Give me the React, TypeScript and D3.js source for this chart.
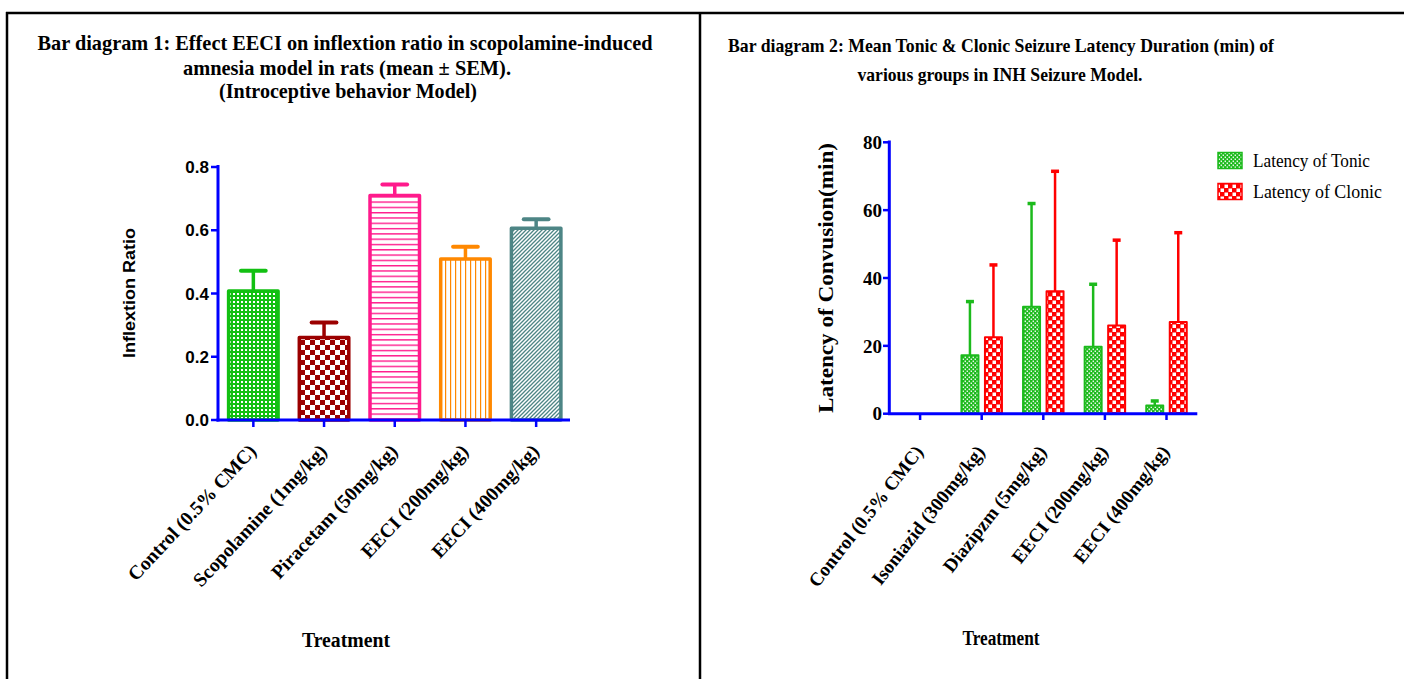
import React from "react";
import * as d3 from "d3";

// ---------- Data ----------
const leftCategories = [
  "Control (0.5% CMC)",
  "Scopolamine (1mg/kg)",
  "Piracetam (50mg/kg)",
  "EECI (200mg/kg)",
  "EECI (400mg/kg)",
];
const leftMeans = [0.408, 0.261, 0.71, 0.509, 0.606];
const leftSEM = [0.064, 0.047, 0.035, 0.039, 0.029];
const leftColors = ["#12c012", "#9b0000", "#ff1a8c", "#ff8800", "#4d8585"];
const leftPatterns = ["pGreenGrid", "pRedCheck", "pPinkH", "pOrangeV", "pTealDiag"];
const leftTicks = [0, 0.2, 0.4, 0.6, 0.8];

const rightCategories = [
  "Control (0.5% CMC)",
  "Isoniazid (300mg/kg)",
  "Diazipzm (5mg/kg)",
  "EECI (200mg/kg)",
  "EECI (400mg/kg)",
];
const seriesNames = ["Latency of Tonic", "Latency of  Clonic"];
const tonicMeans = [0, 17.2, 31.5, 19.7, 2.4];
const tonicErr = [0, 16.0, 30.6, 18.6, 1.5];
const clonicMeans = [0, 22.5, 36.1, 26.0, 27.0];
const clonicErr = [0, 21.5, 35.5, 25.3, 26.5];
const seriesColors = ["#1cba1c", "#ff0000"];
const seriesPatterns = ["pTonic", "pClonic"];
const rightTicks = [0, 20, 40, 60, 80];

const SERIF = "'Liberation Serif', 'Times New Roman', serif";
const SANS = "'Liberation Sans', Arial, sans-serif";
const AXIS = "#0000ff";

export default function App() {
  // Left chart scales
  const xL = d3.scaleBand<string>().domain(leftCategories).range([218, 571.5]).paddingInner(0.3).paddingOuter(0.15);
  const yL = d3.scaleLinear().domain([0, 0.8]).range([420, 167]);
  // Right chart scales
  const xR = d3.scaleBand<string>().domain(rightCategories).range([889.3, 1197.3]).paddingInner(0).paddingOuter(0);
  const xS = d3.scaleBand<string>().domain(seriesNames).range([-20.25, 20.25]).paddingInner(0.277);
  const yR = d3.scaleLinear().domain([0, 80]).range([413.7, 142.3]);
  const fmtL = d3.format(".1f");

  const rightSeries = [
    { means: tonicMeans, errs: tonicErr },
    { means: clonicMeans, errs: clonicErr },
  ];

  return (
    <svg width={1404} height={679} style={{ position: "absolute", left: 0, top: 0, background: "#fff" }}>
      <defs>
        <pattern id="pGreenGrid" patternUnits="userSpaceOnUse" width={4} height={4}>
          <rect width={4} height={4} fill={leftColors[0]} />
          <rect x={1} y={1} width={2} height={2} fill="#fff" />
        </pattern>
        <pattern id="pRedCheck" patternUnits="userSpaceOnUse" width={10} height={10}>
          <rect width={10} height={10} fill="#fff" />
          <rect x={0} y={0} width={5} height={5} fill={leftColors[1]} />
          <rect x={5} y={5} width={5} height={5} fill={leftColors[1]} />
        </pattern>
        <pattern id="pPinkH" patternUnits="userSpaceOnUse" width={5} height={5.3}>
          <rect width={5} height={5.3} fill="#fff" />
          <rect x={0} y={0} width={5} height={1.4} fill={leftColors[2]} />
        </pattern>
        <pattern id="pOrangeV" patternUnits="userSpaceOnUse" width={5} height={5}>
          <rect width={5} height={5} fill="#fff" />
          <rect x={0} y={0} width={1.2} height={5} fill={leftColors[3]} />
        </pattern>
        <pattern id="pTealDiag" patternUnits="userSpaceOnUse" width={4} height={4}>
          <rect width={4} height={4} fill="#fff" />
          <path d="M-1,1 L1,-1 M0,4 L4,0 M3,5 L5,3" stroke={leftColors[4]} strokeWidth={1.3} />
        </pattern>
        <pattern id="pTonic" patternUnits="userSpaceOnUse" width={4} height={4}>
          <rect width={4} height={4} fill={seriesColors[0]} />
          <rect x={0.6} y={0.5} width={1.3} height={1.6} fill="#fff" />
          <rect x={2.6} y={2.5} width={1.3} height={1.6} fill="#fff" />
        </pattern>
        <pattern id="pClonic" patternUnits="userSpaceOnUse" width={8} height={8}>
          <rect width={8} height={8} fill={seriesColors[1]} />
          <rect x={0.5} y={0.5} width={3.5} height={3.5} fill="#fff" />
          <rect x={4.5} y={4.5} width={3.5} height={3.5} fill="#fff" />
        </pattern>
      </defs>

      {/* Frame */}
      <line x1={6} x2={1404} y1={13} y2={13} stroke="#000" strokeWidth={2.5} />
      <line x1={7} x2={7} y1={12} y2={679} stroke="#000" strokeWidth={2.5} />
      <line x1={700} x2={700} y1={12} y2={679} stroke="#000" strokeWidth={2.5} />

      {/* ---------- Left chart ---------- */}
      <g fontFamily={SERIF} fontWeight="bold" fill="#000" textAnchor="middle">
        <text x={345} y={50} fontSize={21} textLength={615} lengthAdjust="spacingAndGlyphs">
          Bar diagram 1: Effect EECI on inflextion ratio in scopolamine-induced
        </text>
        <text x={347} y={75} fontSize={21} textLength={328} lengthAdjust="spacingAndGlyphs">
          amnesia model in rats (mean ± SEM).
        </text>
        <text x={348} y={98} fontSize={21} textLength={258} lengthAdjust="spacingAndGlyphs">
          (Introceptive behavior Model)
        </text>
      </g>

      {/* bars */}
      {leftCategories.map((c, i) => {
        const x0 = xL(c)!;
        const w = xL.bandwidth();
        const yTop = yL(leftMeans[i]);
        const yErr = yL(leftMeans[i] + leftSEM[i]);
        const cx = x0 + w / 2;
        return (
          <g key={c}>
            <rect x={x0} y={yTop} width={w} height={yL(0) - yTop} fill={`url(#${leftPatterns[i]})`}
              stroke={leftColors[i]} strokeWidth={3.5} strokeLinejoin="round" />
            <line x1={cx} x2={cx} y1={yTop} y2={yErr} stroke={leftColors[i]} strokeWidth={3.5} />
            <line x1={cx - w / 4} x2={cx + w / 4} y1={yErr} y2={yErr} stroke={leftColors[i]} strokeWidth={4} strokeLinecap="round" />
          </g>
        );
      })}

      {/* axes */}
      <line x1={218} x2={218} y1={165} y2={421.5} stroke={AXIS} strokeWidth={3} />
      <line x1={216.5} x2={570} y1={420} y2={420} stroke={AXIS} strokeWidth={3} />
      {leftTicks.map((t) => (
        <g key={t}>
          <line x1={211} x2={218} y1={yL(t)} y2={yL(t)} stroke={AXIS} strokeWidth={2.5} />
          <text x={209} y={yL(t)} dy="0.36em" textAnchor="end" fontFamily={SANS} fontWeight="bold" fontSize={17}>
            {fmtL(t)}
          </text>
        </g>
      ))}
      {leftCategories.map((c) => {
        const cx = xL(c)! + xL.bandwidth() / 2;
        return (
          <g key={c}>
            <line x1={cx} x2={cx} y1={420} y2={427} stroke={AXIS} strokeWidth={2.5} />
            <text transform={`translate(${cx + 4},${452}) rotate(-47)`} textAnchor="end"
              fontFamily={SERIF} fontWeight="bold" fontSize={19.5}>
              {c}
            </text>
          </g>
        );
      })}
      <text transform="translate(135,293) rotate(-90)" textAnchor="middle" fontFamily={SANS} fontWeight="bold" fontSize={16}
        textLength={130} lengthAdjust="spacingAndGlyphs">
        Inflextion Ratio
      </text>
      <text x={346} y={647} textAnchor="middle" fontFamily={SERIF} fontWeight="bold" fontSize={20}
        textLength={88} lengthAdjust="spacingAndGlyphs">
        Treatment
      </text>

      {/* ---------- Right chart ---------- */}
      <g fontFamily={SERIF} fontWeight="bold" fill="#000" textAnchor="middle">
        <text x={1001} y={52} fontSize={19} textLength={546} lengthAdjust="spacingAndGlyphs">
          Bar diagram 2: Mean Tonic &amp; Clonic Seizure Latency Duration (min) of
        </text>
        <text x={1000} y={81} fontSize={19} textLength={285} lengthAdjust="spacingAndGlyphs">
          various groups in INH Seizure Model.
        </text>
      </g>

      {rightCategories.map((c) => {
        const cx = xR(c)! + xR.bandwidth() / 2;
        return (
          <g key={c}>
            {rightSeries.map((s, si) => {
              const i = rightCategories.indexOf(c);
              const v = s.means[i];
              if (v <= 0) return null;
              const bx = cx + xS(seriesNames[si])!;
              const bw = xS.bandwidth();
              const yTop = yR(v);
              const yErr = yR(v + s.errs[i]);
              const mx = bx + bw / 2;
              return (
                <g key={si}>
                  <line x1={mx} x2={mx} y1={yTop} y2={yErr} stroke={seriesColors[si]} strokeWidth={2.5} />
                  <line x1={mx - 4} x2={mx + 4} y1={yErr + 0.5} y2={yErr + 0.5} stroke={seriesColors[si]} strokeWidth={3.5} />
                  <rect x={bx} y={yTop} width={bw} height={yR(0) - yTop} fill={`url(#${seriesPatterns[si]})`}
                    stroke={seriesColors[si]} strokeWidth={2} strokeLinejoin="round" />
                </g>
              );
            })}
          </g>
        );
      })}

      <line x1={889.3} x2={889.3} y1={140.5} y2={415} stroke={AXIS} strokeWidth={3} />
      <line x1={888} x2={1197.3} y1={413.7} y2={413.7} stroke={AXIS} strokeWidth={3} />
      {rightTicks.map((t) => (
        <g key={t}>
          <line x1={883} x2={889.3} y1={yR(t)} y2={yR(t)} stroke={AXIS} strokeWidth={2.5} />
          <text x={882} y={yR(t)} dy="0.35em" textAnchor="end" fontFamily={SERIF} fontWeight="bold" fontSize={19}>
            {t}
          </text>
        </g>
      ))}
      {rightCategories.map((c) => {
        const cx = xR(c)! + xR.bandwidth() / 2;
        return (
          <g key={c}>
            <line x1={cx} x2={cx} y1={413.7} y2={420} stroke={AXIS} strokeWidth={2.5} />
            <text transform={`translate(${cx + 4},${452}) rotate(-52)`} textAnchor="end"
              fontFamily={SERIF} fontWeight="bold" fontSize={19}>
              {c}
            </text>
          </g>
        );
      })}
      <text transform="translate(833,278) rotate(-90)" textAnchor="middle" fontFamily={SERIF} fontWeight="bold" fontSize={20}
        textLength={270} lengthAdjust="spacingAndGlyphs">
        Latency of Convusion(min)
      </text>
      <text x={1001} y={645} textAnchor="middle" fontFamily={SERIF} fontWeight="bold" fontSize={20}
        textLength={77} lengthAdjust="spacingAndGlyphs">
        Treatment
      </text>

      {/* legend */}
      {seriesNames.map((n, si) => (
        <g key={n}>
          <rect x={1218} y={152.5 + si * 31} width={24} height={16} fill={`url(#${seriesPatterns[si]})`}
            stroke={seriesColors[si]} strokeWidth={1.5} />
          <text x={1253} y={167 + si * 31} fontFamily={SERIF} fontSize={18} textLength={si === 0 ? 117 : 129}
            lengthAdjust="spacingAndGlyphs">
            {n}
          </text>
        </g>
      ))}
    </svg>
  );
}
